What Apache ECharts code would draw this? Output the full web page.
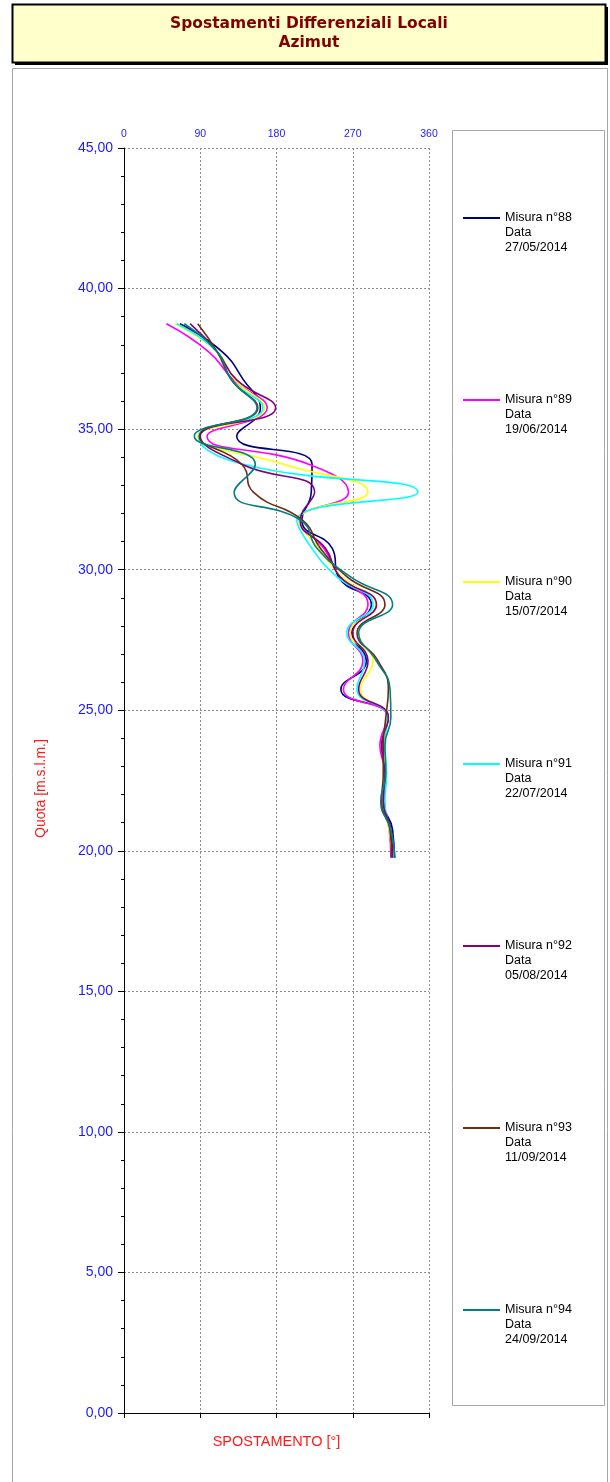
<!DOCTYPE html>
<html>
<head>
<meta charset="utf-8">
<script src="https://cdn.jsdelivr.net/npm/echarts@6/dist/echarts.min.js"></script>
<style>
html,body{margin:0;padding:0;background:#fff;}
#chart{width:610px;height:1482px;}
</style>
</head>
<body>
<div id="chart"></div>
<script>
// Quota (m s.l.m.) of each reading, top to bottom
const quota = [38.75, 37.75, 36.75, 35.75, 34.75, 33.75, 32.75, 31.75, 30.75, 29.75,
               28.75, 27.75, 26.75, 25.75, 24.75, 23.75, 22.75, 21.75, 20.75, 19.75];

// Azimuth [°] per measurement
const az88 = [66, 116, 141, 161, 133, 222, 221, 210, 246, 253, 292, 269, 286, 256, 312, 305, 308, 306, 317, 319];
const az89 = [50, 100, 129, 169, 98, 218, 265, 207, 236, 255, 288, 265, 282, 259, 311, 302, 308, 307, 313, 315];
const az90 = [60, 110, 131, 166, 87, 188, 288, 207, 230, 257, 297, 267, 294, 279, 311, 306, 308, 306, 313, 317];
const az91 = [62, 110, 127, 164, 88, 141, 347, 204, 222, 251, 294, 263, 284, 275, 311, 308, 310, 308, 314, 318];
const az92 = [78, 110, 133, 179, 90, 139, 225, 208, 238, 255, 298, 270, 288, 277, 312, 304, 308, 306, 315, 317];
const az93 = [87, 110, 127, 158, 89, 139, 153, 211, 232, 263, 308, 275, 300, 312, 309, 306, 306, 304, 314, 316];
const az94 = [71, 110, 127, 157, 83, 155, 130, 209, 228, 267, 317, 277, 298, 314, 315, 308, 309, 303, 315, 320];

const seriesNames = ['Misura n°88', 'Misura n°89', 'Misura n°90', 'Misura n°91', 'Misura n°92', 'Misura n°93', 'Misura n°94'];
const seriesDates = ['27/05/2014', '19/06/2014', '15/07/2014', '22/07/2014', '05/08/2014', '11/09/2014', '24/09/2014'];
const seriesValues = [az88, az89, az90, az91, az92, az93, az94];
const seriesColors = ['#000080', '#FF00FF', '#FFFF00', '#00FFFF', '#800080', '#6e2c16', '#008080'];

const titleLines = ['Spostamenti Differenziali Locali', 'Azimut'];

const chart = echarts.init(document.getElementById('chart'), null, {renderer: 'canvas'});

const series = seriesNames.map((name, i) => ({
  name: name,
  type: 'line',
  xAxisIndex: 0,
  yAxisIndex: 0,
  data: seriesValues[i].map((v, k) => [v, quota[k]]),
  smooth: 0.5,
  showSymbol: false,
  symbol: 'none',
  color: seriesColors[i],
  lineStyle: {width: 1.6, color: seriesColors[i]},
  itemStyle: {color: seriesColors[i]},
  emphasis: {disabled: true}
}));

const blue = '#1a1aff';
const red = '#ff1a1a';
const gridLine = {show: true, lineStyle: {color: '#8c8c8c', type: [2, 2], width: 1}};
const titleFont = 'bold 15.5px "DejaVu Sans", Verdana, sans-serif';

chart.setOption({
  animation: false,
  backgroundColor: '#ffffff',
  textStyle: {fontFamily: 'Liberation Sans, Arial, sans-serif'},
  graphic: [
    {type: 'rect', z: 0, shape: {x: 15, y: 7, width: 593, height: 58}, style: {fill: '#000'}},
    {type: 'rect', z: 1, shape: {x: 12.5, y: 4.5, width: 593, height: 58}, style: {fill: '#FFFFCC', stroke: '#000', lineWidth: 2}},
    {type: 'text', z: 2, x: 309, y: 24, style: {text: titleLines[0], fill: '#800000', font: titleFont, textAlign: 'center', textVerticalAlign: 'middle'}},
    {type: 'text', z: 2, x: 309, y: 43, style: {text: titleLines[1], fill: '#800000', font: titleFont, textAlign: 'center', textVerticalAlign: 'middle'}},
    {type: 'rect', z: 0, shape: {x: 12.5, y: 68.5, width: 595, height: 1425}, style: {fill: 'none', stroke: '#a6a6a6', lineWidth: 1}},
    {type: 'rect', z: 0, shape: {x: 452.5, y: 130.5, width: 152, height: 1275}, style: {fill: 'none', stroke: '#a6a6a6', lineWidth: 1}}
  ],
  grid: {left: 124, right: 181, top: 148, bottom: 69, containLabel: false},
  legend: {
    data: seriesNames,
    orient: 'vertical',
    left: 458,
    top: 175.5,
    itemWidth: 37,
    itemHeight: 2,
    itemGap: 107,
    icon: 'rect',
    selectedMode: false,
    textStyle: {fontSize: 12.5, lineHeight: 15, color: '#000', fontFamily: 'Liberation Sans, Arial, sans-serif'},
    formatter: function (name) {
      const i = seriesNames.indexOf(name);
      return '\n\n' + name + '\nData\n' + seriesDates[i];
    }
  },
  xAxis: [
    {
      type: 'value', position: 'bottom', min: 0, max: 360, interval: 90,
      name: 'SPOSTAMENTO [°]', nameLocation: 'middle', nameGap: 21,
      nameTextStyle: {color: red, fontSize: 14.5, fontFamily: 'Liberation Sans, Arial, sans-serif'},
      axisLine: {show: true, onZero: false, lineStyle: {color: '#000', width: 1}},
      axisTick: {show: true, inside: false, length: 5, lineStyle: {color: '#000'}},
      axisLabel: {show: false},
      splitLine: gridLine
    },
    {
      type: 'value', position: 'top', min: 0, max: 360, interval: 90,
      axisLine: {show: false},
      axisTick: {show: false},
      axisLabel: {show: true, color: blue, fontSize: 10.5, margin: 8},
      splitLine: {show: false}
    }
  ],
  yAxis: {
    type: 'value', min: 0, max: 45, interval: 5,
    name: 'Quota [m.s.l.m.]', nameLocation: 'middle', nameGap: 76, nameRotate: 90,
    nameTextStyle: {color: red, fontSize: 14, fontFamily: 'Liberation Sans, Arial, sans-serif', padding: [0, 16, 0, 0]},
    axisLine: {show: true, onZero: false, lineStyle: {color: '#000', width: 1}},
    axisTick: {show: true, inside: false, length: 6, lineStyle: {color: '#000'}},
    minorTick: {show: true, splitNumber: 5, length: 3, lineStyle: {color: '#000'}},
    axisLabel: {color: blue, fontSize: 14, margin: 11, formatter: v => v.toFixed(2).replace('.', ',')},
    splitLine: gridLine
  },
  series: series
});
</script>
</body>
</html>
